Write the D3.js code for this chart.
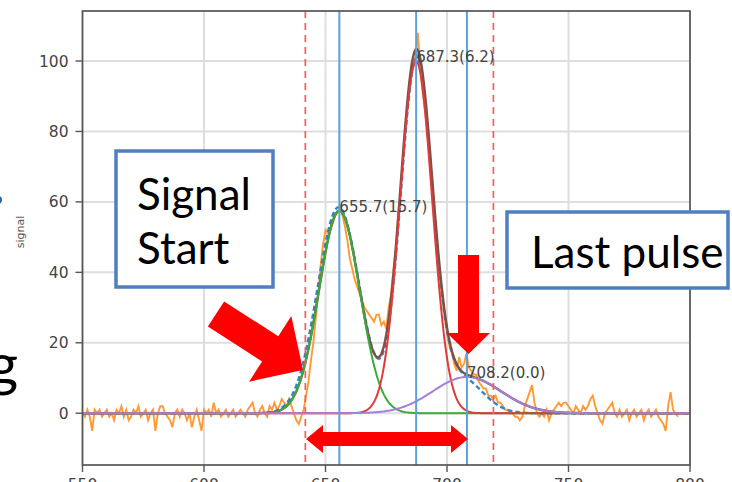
<!DOCTYPE html>
<html><head><meta charset="utf-8">
<script src="https://cdn.jsdelivr.net/npm/d3@7"></script>
<style>html,body{margin:0;padding:0;background:#fff;overflow:hidden}</style>
</head><body><svg id="c" width="732" height="482"></svg>
<script>
// ---- data ----
const xTicks = [550, 600, 650, 700, 750, 800];
const yTicks = [0, 20, 40, 60, 80, 100];
const signalStartX = 550; // first sample, one sample per unit
const signal = [
  0,-1,1,-1,-5,1,0,1,-1,0,
  1,-1,0,-2,1,0,2,-1,1,-2,
  -1,1,0,2,-1,0,1,-2,0,1,
  -5,0,2,2,0,-1,-2,-4,0,1,
  -1,1,0,-2,0,-4,-1,1,-2,-5,
  1,0,1,-1,3,0,1,-1,0,1,
  -1,0,1,-1,0,1,0,-1,1,2,
  3,0,-1,1,2,0,-1,2,1,3,
  1,2,4,3,2,4,2,0,-2,-3,
  -1,1,5,9,15,20,27,34,42,48,
  52,51,52,54,56,57,58,56,53,49,
  44,41,38,36,34,32,30,29,28,27,
  26,28,28,25,26,24,30,34,41,47,
  57,64,74,82,89,95,99,101,108,98,
  91,86,79,71,64,55,46,39,33,27,
  23,19,17,14,12,16,13,14,17,13,
  12,11,11,9,8,7,7,5,5,4,
  5,3,3,2,1,1,0,0,-1,-1,
  -2,-1,2,4,6,8,3,0,-1,0,
  -1,1,-2,0,1,2,3,2,3,3,
  2,1,0,2,1,0,2,1,2,4,
  5,2,0,-2,-3,0,1,2,3,0,
  -1,1,-1,0,1,-2,0,1,-1,0,
  1,-2,0,1,-1,0,1,-1,-2,-3,
  -5,2,6,1,0,-1
];
const peakCenters = [655.7, 687.3, 708.2];
const peakAmps    = [57.5, 100, 10.3];
const peakSigmas  = [8.4, 6.6, 14];
const peakLabels  = ["655.7(15.7)", "687.3(6.2)", "708.2(0.0)"];
const altCenters  = [655.4, 687.4, 705.5];
const altAmps     = [58.5, 99.5, 10];
const altSigmas   = [8.7, 6.5, 9];
const windowEdges = [641.7, 719.1];
const compColors  = ["#3aab3a", "#e23a3a", "#a57fd8"];

// ---- layout ----
const svg = d3.select("#c");
const x = d3.scaleLinear().domain([550, 800]).range([82.5, 690]);
const y = d3.scaleLinear().domain([-14.7, 114.2]).range([465, 11]);
const pTop = 11, pBottom = 465, pLeft = 82.5, pRight = 690;

// grid
svg.append("g").selectAll("line").data(xTicks).join("line")
  .attr("x1", d => x(d)).attr("x2", d => x(d)).attr("y1", pTop).attr("y2", pBottom)
  .attr("stroke", "#dedede").attr("stroke-width", 2);
svg.append("g").selectAll("line").data(yTicks).join("line")
  .attr("y1", d => y(d)).attr("y2", d => y(d)).attr("x1", pLeft).attr("x2", pRight)
  .attr("stroke", "#dedede").attr("stroke-width", 2);

// curves
const samples = d3.range(550, 800.01, 0.5);
const gauss = (v, c, a, s) => a * Math.exp(-((v - c) ** 2) / (2 * s * s));
const comp = i => samples.map(v => [v, gauss(v, peakCenters[i], peakAmps[i], peakSigmas[i])]);
const total = samples.map(v => [v, d3.sum(peakCenters, (c, i) => gauss(v, c, peakAmps[i], peakSigmas[i]))]);
const alt = samples.map(v => [v, d3.sum(altCenters, (c, i) => gauss(v, c, altAmps[i], altSigmas[i]))]);
const line = d3.line().x(d => x(d[0])).y(d => y(d[1]));

svg.append("clipPath").attr("id", "pc").append("rect")
  .attr("x", pLeft).attr("y", pTop).attr("width", pRight - pLeft).attr("height", pBottom - pTop);
const plot = svg.append("g").attr("clip-path", "url(#pc)");

plot.append("path").datum(signal.map((v, i) => [signalStartX + i, v])).attr("d", line)
  .attr("fill", "none").attr("stroke", "#ff9a35").attr("stroke-width", 1.9);
plot.append("path").datum(alt).attr("d", line)
  .attr("fill", "none").attr("stroke", "#2f86c8").attr("stroke-width", 2.4).attr("stroke-dasharray", "5,3");
plot.append("path").datum(total).attr("d", line)
  .attr("fill", "none").attr("stroke", "#7d5048").attr("stroke-width", 2.4);
peakCenters.forEach((c, i) => {
  plot.append("path").datum(comp(i)).attr("d", line)
    .attr("fill", "none").attr("stroke", compColors[i]).attr("stroke-width", 2);
});

// vertical lines
plot.append("g").selectAll("line").data(peakCenters).join("line")
  .attr("x1", d => x(d)).attr("x2", d => x(d)).attr("y1", pTop).attr("y2", pBottom)
  .attr("stroke", "#5aa2dc").attr("stroke-width", 2);
plot.append("g").selectAll("line").data(windowEdges).join("line")
  .attr("x1", d => x(d)).attr("x2", d => x(d)).attr("y1", pTop).attr("y2", pBottom)
  .attr("stroke", "#ff5a5a").attr("stroke-width", 1.7).attr("stroke-dasharray", "7,5");

// peak labels
svg.append("g").selectAll("text").data(peakLabels).join("text")
  .attr("x", (d, i) => x(peakCenters[i])).attr("y", (d, i) => y(peakAmps[i]) + 1)
  .attr("font-family", "DejaVu Sans").attr("font-size", 15).attr("fill", "#444")
  .text(d => d);

// spines
svg.append("rect").attr("x", pLeft).attr("y", pTop).attr("width", pRight - pLeft).attr("height", pBottom - pTop)
  .attr("fill", "none").attr("stroke", "#555").attr("stroke-width", 1.7);

// axes ticks
const ya = svg.append("g");
yTicks.forEach(t => {
  ya.append("line").attr("x1", pLeft - 7).attr("x2", pLeft).attr("y1", y(t)).attr("y2", y(t))
    .attr("stroke", "#555").attr("stroke-width", 1.4);
  ya.append("text").attr("x", pLeft - 14).attr("y", y(t)).attr("dy", "0.36em")
    .attr("text-anchor", "end").attr("font-family", "DejaVu Sans").attr("font-size", 15.5)
    .attr("fill", "#444").text(t);
});
const xa = svg.append("g");
xTicks.forEach(t => {
  xa.append("line").attr("x1", x(t)).attr("x2", x(t)).attr("y1", pBottom).attr("y2", pBottom + 7)
    .attr("stroke", "#555").attr("stroke-width", 1.4);
  xa.append("text").attr("x", x(t)).attr("y", pBottom + 25)
    .attr("text-anchor", "middle").attr("font-family", "DejaVu Sans").attr("font-size", 15.5)
    .attr("fill", "#444").text(t);
});
svg.append("text").attr("transform", "translate(24,232) rotate(-90)")
  .attr("text-anchor", "middle").attr("font-family", "DejaVu Sans").attr("font-size", 11)
  .attr("fill", "#555").text("signal");

// ---- slide overlays ----
const boxBlue = "#4f7fbf";
svg.append("rect").attr("x", 116).attr("y", 151).attr("width", 157).attr("height", 136)
  .attr("fill", "#fff").attr("stroke", boxBlue).attr("stroke-width", 3.5);
svg.append("text").attr("x", 137).attr("y", 210).attr("font-family", "Lato").attr("font-size", 44)
  .attr("fill", "#000").text("Signal");
svg.append("text").attr("x", 137).attr("y", 264).attr("font-family", "Lato").attr("font-size", 44)
  .attr("fill", "#000").text("Start");
svg.append("rect").attr("x", 507).attr("y", 212).attr("width", 221).attr("height", 76)
  .attr("fill", "#fff").attr("stroke", boxBlue).attr("stroke-width", 3.5);
svg.append("text").attr("x", 531).attr("y", 268).attr("font-family", "Lato").attr("font-size", 44)
  .attr("fill", "#000").text("Last pulse");

svg.append("text").attr("x", -12).attr("y", 385).attr("font-family", "Lato").attr("font-size", 58)
  .attr("fill", "#000").text("g");
svg.append("circle").attr("cx", -2).attr("cy", 200).attr("r", 4).attr("fill", "#2f5fa8");

// arrows
const red = "#ff0000";
function arrowPts(tail, tip, shaftHalf, headHalf, headLen) {
  const dx = tip[0] - tail[0], dy = tip[1] - tail[1], L = Math.hypot(dx, dy);
  const u = [dx / L, dy / L], n = [-u[1], u[0]];
  const m = [tip[0] - u[0] * headLen, tip[1] - u[1] * headLen];
  const p = (b, k) => [b[0] + n[0] * k, b[1] + n[1] * k];
  return [p(tail, shaftHalf), p(m, shaftHalf), p(m, headHalf), tip, p(m, -headHalf), p(m, -shaftHalf), p(tail, -shaftHalf)];
}
svg.append("polygon").attr("points", arrowPts([216, 314], [303, 370], 15, 39, 39).join(" ")).attr("fill", red);
svg.append("polygon").attr("points", arrowPts([468.5, 255], [468.5, 354], 10.5, 21.5, 21).join(" ")).attr("fill", red);
// double arrow
(function () {
  const l = 306, r = 468, cy = 439, sh = 7, hh = 14, hl = 17;
  const pts = [[l, cy], [l + hl, cy - hh], [l + hl, cy - sh], [r - hl, cy - sh], [r - hl, cy - hh], [r, cy],
               [r - hl, cy + hh], [r - hl, cy + sh], [l + hl, cy + sh], [l + hl, cy + hh]];
  svg.append("polygon").attr("points", pts.join(" ")).attr("fill", red);
})();
</script></body></html>
